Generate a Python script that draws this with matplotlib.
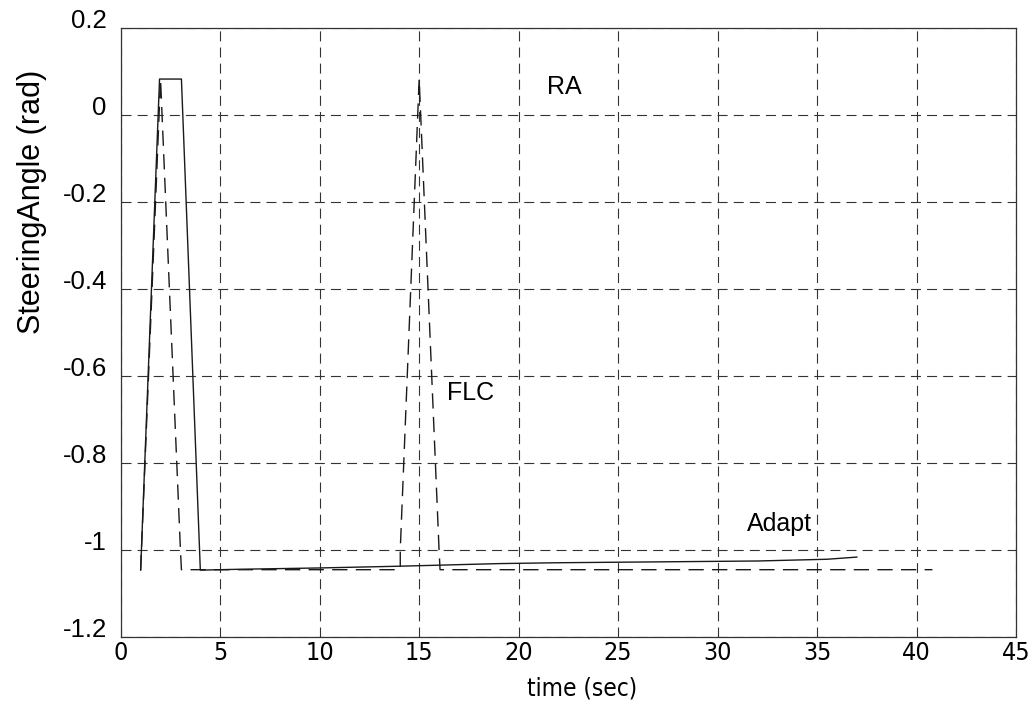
import numpy as np
import matplotlib
matplotlib.use("Agg")
import matplotlib.pyplot as plt

plt.rcParams['font.family'] = ['Liberation Sans', 'DejaVu Sans']

# solid trace
solid_t = [1.0, 1.95, 3.05, 4.0, 6.0, 10.0, 14.0, 19.0, 22.0, 27.0, 32.0, 35.5, 37.0]
solid_y = [-1.047, 0.083, 0.083, -1.047, -1.045, -1.042, -1.038, -1.032, -1.030,
           -1.028, -1.026, -1.022, -1.017]

# dashed trace
dash_t = [1.0, 2.0, 3.0, 3.05, 14.05, 14.05, 15.0, 16.0, 16.05, 40.8]
dash_y = [-1.047, 0.083, -1.0, -1.046, -1.046, -1.0, 0.083, -1.0, -1.046, -1.046]

labels = ["RA", "FLC", "Adapt"]
label_t = [22.3, 17.6, 33.1]
label_y = [0.065, -0.64, -0.94]

xticks = list(range(0, 50, 5))
yticks = [0.2, 0, -0.2, -0.4, -0.6, -0.8, -1, -1.2]
ytick_labels = ["0.2", "0", "-0.2", "-0.4", "-0.6", "-0.8", "-1", "-1.2"]

narrow = dict(family=['DejaVu Sans'], fontstretch='condensed')

fig = plt.figure(figsize=(10.32, 7.05), dpi=100)
ax = fig.add_axes([0.117, 0.097, 0.8675, 0.863])

ax.plot(solid_t, solid_y, color='#1a1a1a', linewidth=1.0)
ax.plot(dash_t, dash_y, color='#1a1a1a', linewidth=1.0, dashes=(11, 6))

for s, t, y in zip(labels, label_t, label_y):
    ax.text(t, y, s, fontsize=18, ha='center', va='center')

ax.set_xlim(0, 45)
ax.set_ylim(-1.2, 0.2)
ax.set_xticks(xticks)
ax.set_xticklabels([str(x) for x in xticks], fontsize=18, **narrow)
ax.set_yticks(yticks)
ax.set_yticklabels(ytick_labels, fontsize=18.5)
for lbl in ax.get_yticklabels():
    lbl.set_va('baseline')
ax.tick_params(length=0)
ax.tick_params(axis='y', pad=10)
ax.tick_params(axis='x', pad=3)

ax.grid(True, color='#333333', linestyle=(0, (9, 5.5)), linewidth=0.8)
for sp in ax.spines.values():
    sp.set_linewidth(0.9)
    sp.set_color('#333333')

ax.set_xlabel("time (sec)", fontsize=17.5, **narrow)
ax.xaxis.set_label_coords(0.515, -0.065)
ax.set_ylabel("SteeringAngle (rad)", fontsize=22)
ax.yaxis.set_label_coords(-0.082, 0.715)

fig.savefig("out.png", dpi=100)
